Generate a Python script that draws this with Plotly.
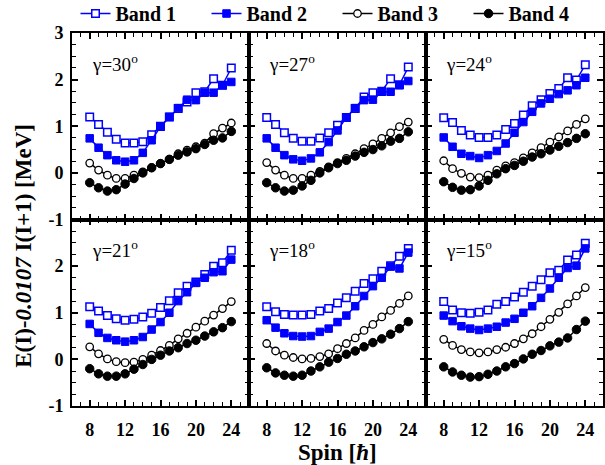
import plotly.graph_objects as go
from plotly.subplots import make_subplots

spin = list(range(8, 25))
gammas = ["30", "27", "24", "21", "18", "15"]

band1 = {
    "30": [1.20, 1.04, 0.87, 0.72, 0.64, 0.64, 0.67, 0.82, 1.00, 1.20, 1.38, 1.52, 1.72, 1.74, 2.02, 1.88, 2.25],
    "27": [1.19, 1.04, 0.86, 0.74, 0.68, 0.68, 0.75, 0.86, 1.02, 1.19, 1.38, 1.63, 1.72, 1.75, 2.02, 1.89, 2.27],
    "24": [1.18, 1.08, 0.91, 0.81, 0.76, 0.76, 0.81, 0.93, 1.06, 1.24, 1.44, 1.57, 1.70, 1.81, 2.04, 1.99, 2.32],
    "21": [1.13, 1.04, 0.94, 0.87, 0.84, 0.86, 0.91, 0.99, 1.11, 1.26, 1.43, 1.57, 1.66, 1.82, 2.00, 2.07, 2.34],
    "18": [1.13, 1.02, 0.96, 0.95, 0.95, 0.96, 1.04, 1.09, 1.21, 1.32, 1.46, 1.63, 1.73, 1.89, 2.01, 2.21, 2.38],
    "15": [1.24, 1.06, 1.00, 0.99, 1.01, 1.06, 1.18, 1.24, 1.34, 1.44, 1.57, 1.71, 1.86, 1.91, 2.13, 2.24, 2.49],
}
band2 = {
    "30": [0.74, 0.54, 0.38, 0.27, 0.24, 0.27, 0.43, 0.70, 0.99, 1.20, 1.39, 1.57, 1.56, 1.72, 1.72, 1.88, 1.95],
    "27": [0.74, 0.54, 0.38, 0.29, 0.26, 0.31, 0.44, 0.66, 0.91, 1.19, 1.39, 1.56, 1.57, 1.74, 1.74, 1.88, 1.97],
    "24": [0.76, 0.56, 0.41, 0.36, 0.32, 0.38, 0.47, 0.63, 0.86, 1.09, 1.31, 1.49, 1.59, 1.69, 1.77, 1.88, 2.04],
    "21": [0.76, 0.57, 0.46, 0.41, 0.38, 0.41, 0.48, 0.64, 0.80, 1.00, 1.25, 1.44, 1.64, 1.75, 1.87, 1.89, 2.14],
    "18": [0.84, 0.68, 0.56, 0.50, 0.49, 0.50, 0.59, 0.66, 0.80, 0.94, 1.14, 1.36, 1.57, 1.75, 1.99, 1.95, 2.29],
    "15": [0.94, 0.82, 0.71, 0.66, 0.63, 0.66, 0.70, 0.79, 0.87, 1.00, 1.14, 1.32, 1.52, 1.75, 1.96, 2.01, 2.38],
}
band3 = {
    "30": [0.21, 0.06, -0.05, -0.12, -0.12, -0.05, 0.02, 0.11, 0.20, 0.29, 0.41, 0.49, 0.56, 0.64, 0.84, 0.96, 1.07],
    "27": [0.22, 0.06, -0.05, -0.12, -0.12, -0.05, 0.03, 0.13, 0.22, 0.31, 0.41, 0.52, 0.62, 0.74, 0.86, 0.99, 1.09],
    "24": [0.26, 0.09, -0.01, -0.09, -0.10, -0.05, 0.06, 0.15, 0.22, 0.32, 0.43, 0.54, 0.66, 0.77, 0.90, 1.04, 1.16],
    "21": [0.27, 0.12, 0.01, -0.05, -0.07, -0.06, 0.00, 0.09, 0.19, 0.30, 0.44, 0.56, 0.69, 0.82, 0.95, 1.09, 1.24],
    "18": [0.34, 0.18, 0.09, 0.04, 0.01, 0.02, 0.06, 0.12, 0.23, 0.34, 0.46, 0.62, 0.75, 0.91, 1.05, 1.20, 1.36],
    "15": [0.43, 0.30, 0.21, 0.16, 0.14, 0.16, 0.21, 0.26, 0.34, 0.44, 0.55, 0.70, 0.86, 1.01, 1.19, 1.36, 1.54],
}
band4 = {
    "30": [-0.21, -0.32, -0.39, -0.36, -0.24, -0.12, 0.00, 0.11, 0.20, 0.29, 0.38, 0.45, 0.52, 0.61, 0.70, 0.75, 0.89],
    "27": [-0.21, -0.32, -0.39, -0.37, -0.28, -0.16, 0.00, 0.11, 0.20, 0.27, 0.36, 0.44, 0.50, 0.58, 0.68, 0.74, 0.88],
    "24": [-0.19, -0.31, -0.37, -0.36, -0.28, -0.16, -0.02, 0.09, 0.16, 0.25, 0.34, 0.41, 0.49, 0.57, 0.65, 0.74, 0.84],
    "21": [-0.20, -0.31, -0.36, -0.36, -0.31, -0.21, -0.11, 0.00, 0.09, 0.18, 0.25, 0.34, 0.41, 0.50, 0.59, 0.68, 0.81],
    "18": [-0.18, -0.29, -0.34, -0.36, -0.34, -0.25, -0.16, -0.06, 0.02, 0.11, 0.18, 0.27, 0.36, 0.44, 0.54, 0.66, 0.81],
    "15": [-0.16, -0.27, -0.34, -0.38, -0.37, -0.32, -0.25, -0.16, -0.09, 0.01, 0.11, 0.19, 0.29, 0.37, 0.46, 0.64, 0.82],
}

x_ticks = [8, 12, 16, 20, 24]
y_ticks_top = [-1, 0, 1, 2, 3]
y_ticks_bottom = [-1, 0, 1, 2]

BLUE = "#0000ff"
FONT = "Liberation Serif"

styles = [
    ("Band 1", band1, dict(symbol="square", size=7.5, color="white", line=dict(color=BLUE, width=1.5)), BLUE),
    ("Band 2", band2, dict(symbol="square", size=7.5, color=BLUE, line=dict(color=BLUE, width=1)), BLUE),
    ("Band 3", band3, dict(symbol="circle", size=7.5, color="white", line=dict(color="black", width=1.3)), "black"),
    ("Band 4", band4, dict(symbol="circle", size=8.5, color="black", line=dict(color="black", width=1)), "black"),
]

fig = make_subplots(rows=2, cols=3, horizontal_spacing=0, vertical_spacing=0)

for i, g in enumerate(gammas):
    r, c = i // 3 + 1, i % 3 + 1
    for name, data, marker, lc in styles:
        fig.add_trace(go.Scatter(
            x=spin, y=data[g], mode="lines+markers", name="<b>" + name + "</b>",
            line=dict(color=lc, width=1.5), marker=marker,
            showlegend=(i == 0), legendgroup=name,
        ), row=r, col=c)
    fig.add_annotation(
        text="γ=" + g + "<sup>o</sup>", xref="x domain" if i == 0 else f"x{i+1} domain",
        yref="y domain" if i == 0 else f"y{i+1} domain",
        x=0.1, y=0.84, xanchor="left", yanchor="middle", showarrow=False,
        font=dict(family=FONT, size=19, color="black"),
    )

    fig.update_xaxes(
        range=[6, 26], tickvals=x_ticks, ticktext=["<b>%d</b>" % v for v in x_ticks],
        showticklabels=(r == 2), ticks="inside", ticklen=6, tickwidth=1.6,
        ticklabelstandoff=6,
        minor=dict(ticks="inside", ticklen=4, tickwidth=1.3, dtick=1, tick0=0, tickcolor="black"),
        showline=True, linewidth=1.8, linecolor="black", mirror="allticks",
        showgrid=False, zeroline=False, tickcolor="black",
        tickfont=dict(family=FONT, size=18, color="black"),
        row=r, col=c,
    )
    yt = y_ticks_top if r == 1 else y_ticks_bottom
    fig.update_yaxes(
        range=[-1, 3], tickvals=yt, ticktext=["<b>%d</b>" % v for v in yt],
        showticklabels=(c == 1), ticks="inside", ticklen=6, tickwidth=1.6,
        ticklabelstandoff=3,
        minor=dict(ticks="inside", ticklen=4, tickwidth=1.3, dtick=0.25, tick0=0, tickcolor="black"),
        showline=True, linewidth=1.8, linecolor="black", mirror="allticks",
        showgrid=False, zeroline=False, tickcolor="black",
        tickfont=dict(family=FONT, size=18, color="black"),
        row=r, col=c,
    )

fig.add_annotation(
    text="<b>E(I)-<i>0.0107</i> I(I+1) [MeV]</b>", xref="paper", yref="paper",
    x=-0.092, y=0.43, textangle=-90, showarrow=False, xanchor="center", yanchor="middle",
    font=dict(family=FONT, size=23, color="black"),
)
fig.add_annotation(
    text="<b>Spin [<i>ħ</i>]</b>", xref="paper", yref="paper",
    x=0.5, y=-0.125, showarrow=False, xanchor="center", yanchor="middle",
    font=dict(family=FONT, size=23, color="black"),
)

fig.update_layout(
    width=605, height=465,
    margin=dict(l=72, r=2, t=33, b=59, autoexpand=False),
    paper_bgcolor="white", plot_bgcolor="white",
    legend=dict(orientation="h", x=0.5, xanchor="center", y=1.0, yanchor="bottom",
                font=dict(family=FONT, size=20, color="black"),
                entrywidth=86, entrywidthmode="pixels",
                tracegroupgap=0, bgcolor="rgba(0,0,0,0)"),
    font=dict(family=FONT, color="black"),
)

fig.write_html("out.html")
